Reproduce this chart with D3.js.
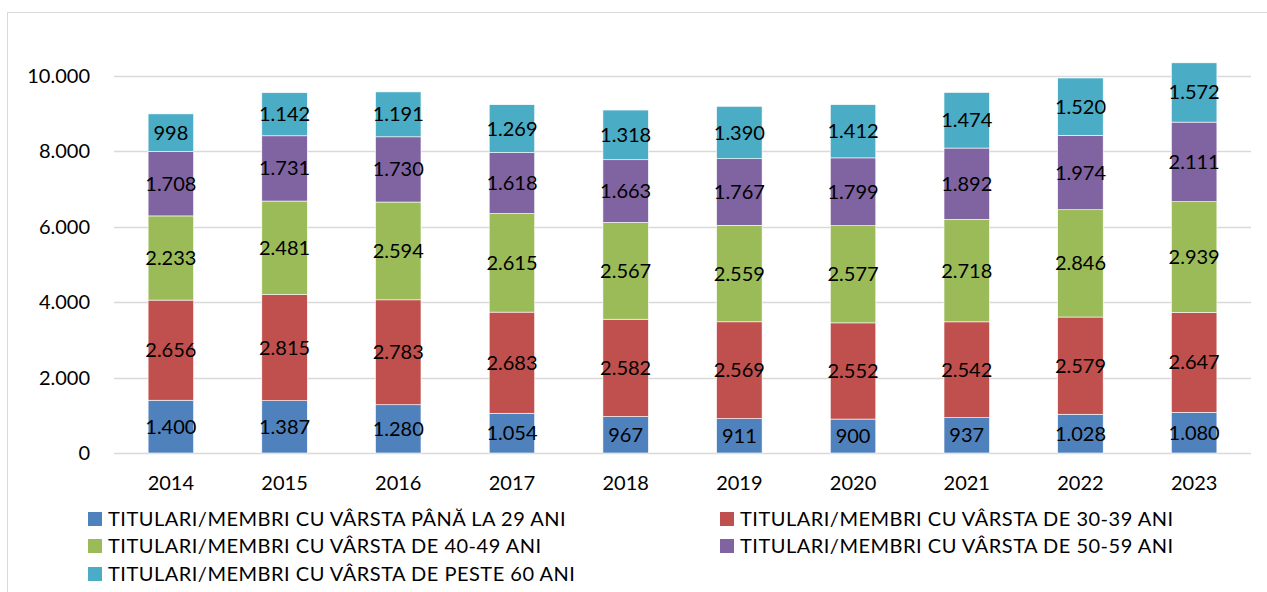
<!DOCTYPE html>
<meta charset="utf-8">
<script src="https://d3js.org/d3.v7.min.js"></script>
<style>
body { margin: 0; background: #fff; }
text { font-family: Lato, "Open Sans", sans-serif; fill: #000; }
</style>
<body>
<script>

// data
var years = ["2014","2015","2016","2017","2018","2019","2020","2021","2022","2023"];
var seriesNames = [
  "TITULARI/MEMBRI CU VÂRSTA PÂNĂ LA 29 ANI",
  "TITULARI/MEMBRI CU VÂRSTA DE 30-39 ANI",
  "TITULARI/MEMBRI CU VÂRSTA DE 40-49 ANI",
  "TITULARI/MEMBRI CU VÂRSTA DE 50-59 ANI",
  "TITULARI/MEMBRI CU VÂRSTA DE PESTE 60 ANI"
];
var under29 = [1400,1387,1280,1054,967,911,900,937,1028,1080];
var age30_39 = [2656,2815,2783,2683,2582,2569,2552,2542,2579,2647];
var age40_49 = [2233,2481,2594,2615,2567,2559,2577,2718,2846,2939];
var age50_59 = [1708,1731,1730,1618,1663,1767,1799,1892,1974,2111];
var over60 = [998,1142,1191,1269,1318,1390,1412,1474,1520,1572];
var yTicks = [0,2000,4000,6000,8000,10000];
var colors = ["#4f81bd","#c0504d","#9bbb59","#8064a2","#4bacc6"];

var width = 1267, height = 592;
var keys = ["s0","s1","s2","s3","s4"];
var allSeries = [under29, age30_39, age40_49, age50_59, over60];

var table = years.map(function(y, i) {
  var row = {year: y};
  keys.forEach(function(k, j) { row[k] = allSeries[j][i]; });
  return row;
});

var stack = d3.stack().keys(keys)(table);

var svg = d3.select("body").append("svg")
    .attr("width", width)
    .attr("height", height);

// chart border
svg.append("rect")
    .attr("x", 7.5).attr("y", 12.5)
    .attr("width", 1280).attr("height", 600)
    .attr("fill", "none")
    .attr("stroke", "#d9d9d9")
    .attr("stroke-width", 1);

var x = d3.scaleBand().domain(years).range([114, 1251]).paddingInner(0.6).paddingOuter(0.3);
var y = d3.scaleLinear().domain([0, 10000]).range([453, 76]);

var fmt = function(v) { return d3.format(",")(v).replace(/,/g, "."); };

// gridlines
svg.append("g").selectAll("line")
    .data(yTicks)
  .enter().append("line")
    .attr("x1", 114).attr("x2", 1251)
    .attr("y1", function(d) { return Math.round(y(d)) + 0.5; })
    .attr("y2", function(d) { return Math.round(y(d)) + 0.5; })
    .attr("stroke", "#d9d9d9")
    .attr("stroke-width", 1.3);

// y labels
svg.append("g").selectAll("text")
    .data(yTicks)
  .enter().append("text")
    .attr("x", 90)
    .attr("y", function(d) { return y(d); })
    .attr("dy", "0.35em")
    .attr("text-anchor", "end")
    .style("font-size", "20px")
    .text(fmt);

// x labels
svg.append("g").selectAll("text")
    .data(years)
  .enter().append("text")
    .attr("x", function(d) { return x(d) + x.bandwidth() / 2; })
    .attr("y", 483)
    .attr("dy", "0.35em")
    .attr("text-anchor", "middle")
    .style("font-size", "20px")
    .text(function(d) { return d; });

// bars
var layer = svg.append("g").selectAll("g")
    .data(stack)
  .enter().append("g")
    .attr("fill", function(d, i) { return colors[i]; });

layer.selectAll("rect")
    .data(function(d) { return d; })
  .enter().append("rect")
    .attr("x", function(d) { return x(d.data.year); })
    .attr("y", function(d) { return y(d[1]); })
    .attr("width", x.bandwidth())
    .attr("height", function(d) { return y(d[0]) - y(d[1]); })
    .attr("stroke", "#fff")
    .attr("stroke-width", 0.6);

// value labels
layer.selectAll("text")
    .data(function(d) { return d; })
  .enter().append("text")
    .attr("x", function(d) { return x(d.data.year) + x.bandwidth() / 2; })
    .attr("y", function(d) { return (y(d[0]) + y(d[1])) / 2; })
    .attr("dy", "0.35em")
    .attr("text-anchor", "middle")
    .style("font-size", "20px")
    .text(function(d) { return fmt(d[1] - d[0]); });

// legend
var legendPos = [[88,519],[720,519],[88,546],[720,546],[88,574]];
var legend = svg.append("g").selectAll("g")
    .data(seriesNames)
  .enter().append("g")
    .attr("transform", function(d, i) { return "translate(" + legendPos[i][0] + "," + legendPos[i][1] + ")"; });

legend.append("rect")
    .attr("x", 0).attr("y", -7)
    .attr("width", 14).attr("height", 14)
    .attr("fill", function(d, i) { return colors[i]; });

legend.append("text")
    .attr("x", 20)
    .attr("dy", "0.35em")
    .style("font-size", "20px")
    .style("letter-spacing", "0.5px")
    .text(function(d) { return d; });

</script>
</body>
